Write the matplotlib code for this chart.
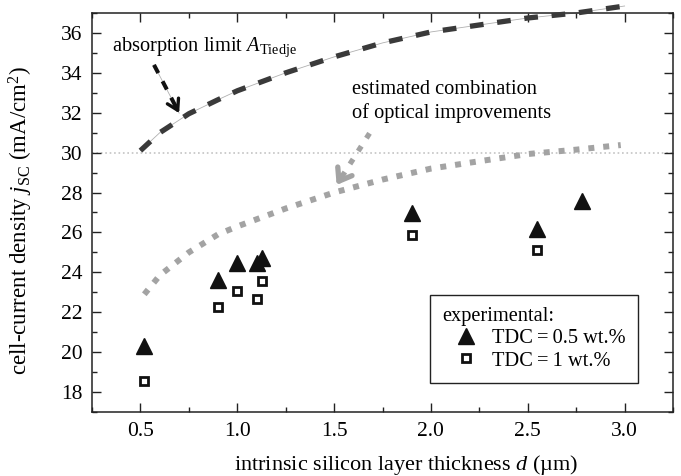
import numpy as np
import matplotlib
matplotlib.use('Agg')
import matplotlib.pyplot as plt

plt.rcParams['font.family'] = ['Liberation Serif', 'DejaVu Serif']
plt.rcParams['mathtext.fontset'] = 'custom'
plt.rcParams['mathtext.rm'] = 'Liberation Serif'
plt.rcParams['mathtext.it'] = 'Liberation Serif:italic'
plt.rcParams['font.size'] = 15

# experimental data (thickness in um, jsc in mA/cm2)
d_tdc05 = [0.52, 0.90, 1.00, 1.10, 1.13, 1.90, 2.55, 2.78]
j_tdc05 = [20.3, 23.6, 24.45, 24.45, 24.7, 26.95, 26.15, 27.6]
d_tdc1 = [0.52, 0.90, 1.00, 1.10, 1.13, 1.90, 2.55]
j_tdc1 = [18.55, 22.25, 23.05, 22.65, 23.55, 25.85, 25.1]

# absorption limit (Tiedje)
d_abs = [0.5, 0.6, 0.75, 0.9, 1.0, 1.25, 1.5, 1.75, 2.0, 2.25, 2.5, 2.75, 3.0]
j_abs = [30.1, 31.0, 31.95, 32.65, 33.1, 34.0, 34.8, 35.5, 36.05, 36.4, 36.75, 37.0, 37.35]

# estimated combination of optical improvements
d_est = [0.52, 0.6, 0.75, 0.9, 1.0, 1.25, 1.5, 1.75, 2.0, 2.25, 2.5, 2.75, 2.98]
j_est = [22.9, 23.85, 25.0, 25.9, 26.3, 27.2, 28.0, 28.65, 29.2, 29.57, 29.93, 30.15, 30.38]

# annotation arrows (start, tip)
arrow_abs = [(0.57, 34.4), (0.70, 31.98)]
arrow_est = [(1.683, 30.97), (1.513, 28.38)]

fig = plt.figure(figsize=(6.81, 4.76), dpi=100)
ax = fig.add_axes([0.1351, 0.1345, 0.8532, 0.8382])

# reference line at 30 mA/cm2
ax.axhline(30, color='#c4c4c4', lw=1.2, ls=':', zorder=1)

# absorption limit curve: dark dashes with thin grey line between
ax.plot(d_abs, j_abs, color='#b0b0b0', lw=0.6, clip_on=False, zorder=2)
ax.plot(d_abs, j_abs, color='#3a3a3a', lw=3.8, dashes=(2.6, 2.6),
        solid_capstyle='butt', clip_on=False, zorder=3)

# estimated curve: grey square dots
ax.plot(d_est, j_est, color='#a3a3a3', lw=4.3, dashes=(1.0, 1.5), zorder=3)

# arrows
(x0, y0), (x1, y1) = arrow_abs
ax.plot([x0, x1], [y0, y1], color='#b0b0b0', lw=0.6, zorder=2)
ax.plot([x0, x1 - 0.004], [y0, y1 + 0.08], color='#111111', lw=2.9,
        dashes=(2.3, 2.3), zorder=3)
ax.annotate('', xy=(x1, y1), xytext=(x1 - 0.02, y1 + 0.38),
            arrowprops=dict(arrowstyle='->,head_length=0.5,head_width=0.3',
                            color='#111111', lw=2.4, shrinkA=0, shrinkB=0))
(x0, y0), (x1, y1) = arrow_est
ax.plot([x0, x1], [y0, y1], color='#a3a3a3', lw=3.8, dashes=(1.1, 1.8), zorder=3)
ax.annotate('', xy=(x1, y1), xytext=(x1 + 0.03, y1 + 0.48),
            arrowprops=dict(arrowstyle='->,head_length=0.55,head_width=0.4',
                            color='#a3a3a3', lw=3.8, shrinkA=0, shrinkB=0))

# experimental points
ax.plot(d_tdc05, j_tdc05, ls='none', marker='^', ms=12, color='#111111',
        label='TDC\u2009=\u20090.5 wt.%', zorder=5)
ax.plot(d_tdc1, j_tdc1, ls='none', marker='s', ms=6.3, mfc='white',
        mec='#111111', mew=2.0, label='TDC\u2009=\u20091 wt.%', zorder=5)

ax.text(0.352, 35.08, r'absorption limit $A_\mathrm{Tiedje}$', va='baseline',
        ha='left', fontsize=14.7)
ax.text(1.591, 32.95, 'estimated combination', va='baseline', ha='left', fontsize=14.7)
ax.text(1.591, 31.73, 'of optical improvements', va='baseline', ha='left', fontsize=14.7)

ax.set_xlim(0.25, 3.25)
ax.set_ylim(17, 37)
ax.set_xticks([0.5, 1.0, 1.5, 2.0, 2.5, 3.0])
ax.set_xticks(np.arange(0.25, 3.26, 0.25), minor=True)
ax.set_yticks([18, 20, 22, 24, 26, 28, 30, 32, 34, 36])
ax.set_yticks(np.arange(17, 37.1, 1), minor=True)
ax.tick_params(which='both', direction='in', top=True, right=True,
               colors='#222222', labelcolor='black', labelsize=15.5)
ax.tick_params(which='major', length=6.5, width=1.0, pad=7)
ax.tick_params(which='minor', length=3.6, width=1.0)
for s in ax.spines.values():
    s.set_linewidth(1.1)
    s.set_color('#222222')

ax.set_xlabel(r'intrinsic silicon layer thickness $d$ (µm)', fontsize=16)
ax.set_ylabel(r'cell-current density $j_\mathrm{SC}$ (mA/cm$^2$)', fontsize=16.5)
ax.xaxis.set_label_coords(0.541, -0.104)
ax.yaxis.set_label_coords(-0.098, 0.479)

leg = ax.legend(title='experimental:', loc='lower left',
                bbox_to_anchor=(0.582, 0.073), borderaxespad=0,
                handlelength=2.3, handletextpad=0.15, labelspacing=0.15,
                borderpad=0.6, fancybox=False, edgecolor='#222222',
                framealpha=1, fontsize=14.7, title_fontsize=14.7, alignment='left')
leg.get_frame().set_linewidth(1.0)

fig.savefig('out.png', dpi=100)
